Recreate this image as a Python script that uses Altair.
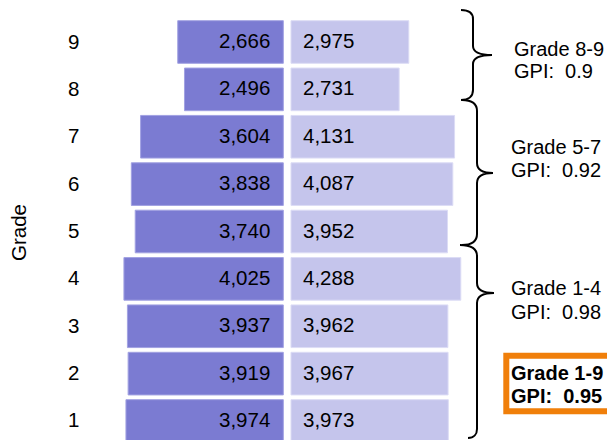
import altair as alt
import pandas as pd

# ---- data ----
grades = [1, 2, 3, 4, 5, 6, 7, 8, 9]
girls = [3974, 3919, 3937, 4025, 3740, 3838, 3604, 2496, 2666]
boys = [3973, 3967, 3962, 4288, 3952, 4087, 4131, 2731, 2975]

group_labels = ["Grade 8-9", "Grade 5-7", "Grade 1-4"]
group_gpi = ["0.9", "0.92", "0.98"]
total_label = "Grade 1-9"
total_gpi = "0.95"

FONT = "Liberation Sans"
GAP = 97
NB = "\u00a0\u00a0"

df = pd.DataFrame({"grade": grades, "girls": girls, "boys": boys})

yscale = alt.Scale(domain=[0.4934, 9.7177], nice=False, zero=False)
xscale = alt.Scale(domain=[-5105, 8077], nice=False, zero=False)

AX = alt.Axis(
    values=grades,
    format="d",
    title="Grade",
    labelFont=FONT,
    labelFontSize=20.5,
    labelColor="black",
    labelPadding=6,
    labelFlush=False,
    labelOverlap=False,
    ticks=False,
    tickSize=0,
    domain=False,
    grid=False,
    titleFont=FONT,
    titleFontSize=20.5,
    titleFontWeight="normal",
    titleColor="black",
    titleAngle=270,
    titleX=-66,
    titleY=224,
    titleAlign="center",
    titleBaseline="middle",
)

base = alt.Chart(df).transform_calculate(
    y0="datum.grade - 0.45", y1="datum.grade + 0.45"
)

girls_bar = base.transform_calculate(
    x0=f"-datum.girls - {GAP}", x1=f"-{GAP}"
).mark_bar(color="#7B7BD2", stroke="#A2A2E2", strokeWidth=1).encode(
    x=alt.X("x0:Q", scale=xscale, axis=None),
    x2="x1:Q",
    y=alt.Y("y0:Q", scale=yscale, axis=AX),
    y2="y1:Q",
)

boys_bar = base.transform_calculate(
    x0=f"{GAP}", x1=f"datum.boys + {GAP}"
).mark_bar(color="#C5C5EC", stroke="#DCDCF5", strokeWidth=1).encode(
    x=alt.X("x0:Q", scale=xscale, axis=None),
    x2="x1:Q",
    y=alt.Y("y0:Q", scale=yscale, axis=AX),
    y2="y1:Q",
)

girls_text = alt.Chart(df).transform_calculate(xl=f"-{GAP}").mark_text(
    align="right", baseline="middle", dx=-13, fontSize=20.5, font=FONT, color="black"
).encode(
    x=alt.X("xl:Q", scale=xscale, axis=None),
    y=alt.Y("grade:Q", scale=yscale, axis=AX),
    text=alt.Text("girls:Q", format=","),
)

boys_text = alt.Chart(df).transform_calculate(xl=f"{GAP}").mark_text(
    align="left", baseline="middle", dx=12, fontSize=20.5, font=FONT, color="black"
).encode(
    x=alt.X("xl:Q", scale=xscale, axis=None),
    y=alt.Y("grade:Q", scale=yscale, axis=AX),
    text=alt.Text("boys:Q", format=","),
)

# ---- braces (custom symbol shapes) ----
brace_ids = ["b89", "b57", "b14"]
brace_tip = [8.7256, 6.2348, 3.7018]
brace_paths = [
    "M -0.16,-0.45 C -0.08,-0.45 -0.04,-0.42 -0.04,-0.36 L -0.04,-0.09 "
    "C -0.04,-0.03 0.02,0 0.15,0 C 0.02,0 -0.04,0.03 -0.04,0.09 L -0.04,0.35 "
    "C -0.04,0.41 -0.08,0.45 -0.16,0.45",
    "M -0.15,-0.73 C -0.05,-0.73 0,-0.69 0,-0.62 L 0,-0.1 C 0,-0.03 0.06,0 0.16,0 "
    "C 0.06,0 0,0.03 0,0.1 L 0,0.61 C 0,0.68 -0.05,0.72 -0.15,0.72",
    "M -0.17,-0.48 C -0.06,-0.48 0,-0.44 0,-0.37 L 0,-0.1 C 0,-0.03 0.06,0 0.17,0 "
    "C 0.06,0 0,0.03 0,0.1 L 0,1.36 C 0,1.41 -0.03,1.45 -0.09,1.45",
]
brace_df = pd.DataFrame({"brace": brace_ids, "tip": brace_tip})

braces = alt.Chart(brace_df).mark_point(
    filled=False, stroke="black", strokeWidth=2, opacity=1, size=40000
).encode(
    x=alt.value(392),
    y=alt.Y("tip:Q", scale=yscale, axis=AX),
    shape=alt.Shape(
        "brace:N",
        scale=alt.Scale(domain=brace_ids, range=brace_paths),
        legend=None,
    ),
)

# ---- annotation box ----
box = alt.Chart(pd.DataFrame({"k": [0]})).mark_rect(
    fill="white", stroke="#F07F0A", strokeWidth=6
).encode(
    x=alt.value(421.3), x2=alt.value(545), y=alt.value(347.7), y2=alt.value(403.2)
)

# ---- annotation texts ----
ann1 = pd.DataFrame({
    "line": [group_labels[0], "GPI:" + NB + group_gpi[0]],
    "y": [8.831, 8.362],
})
ann2 = pd.DataFrame({
    "line": [group_labels[1], "GPI:" + NB + group_gpi[1],
             group_labels[2], "GPI:" + NB + group_gpi[2]],
    "y": [6.773, 6.281, 3.786, 3.290],
})
ann3 = pd.DataFrame({
    "line": [total_label, "GPI:" + NB + total_gpi],
    "y": [1.998, 1.507],
})

def ann_layer(d, xpx, weight):
    return alt.Chart(d).mark_text(
        align="left", baseline="middle", fontSize=20, font=FONT,
        color="black", fontWeight=weight
    ).encode(
        x=alt.value(xpx),
        y=alt.Y("y:Q", scale=yscale, axis=AX),
        text="line:N",
    )

chart = alt.layer(
    girls_bar, boys_bar, girls_text, boys_text, braces, box,
    ann_layer(ann1, 429, "normal"),
    ann_layer(ann2, 426, "normal"),
    ann_layer(ann3, 426, "bold"),
).properties(
    width=522,
    height=437,
    autosize=alt.AutoSizeParams(type="none"),
    padding={"left": 77, "top": 0, "right": 0, "bottom": 0},
    background="white",
).configure_view(stroke=None)

chart.save("out.html", embed_options={"renderer": "svg", "actions": False})
